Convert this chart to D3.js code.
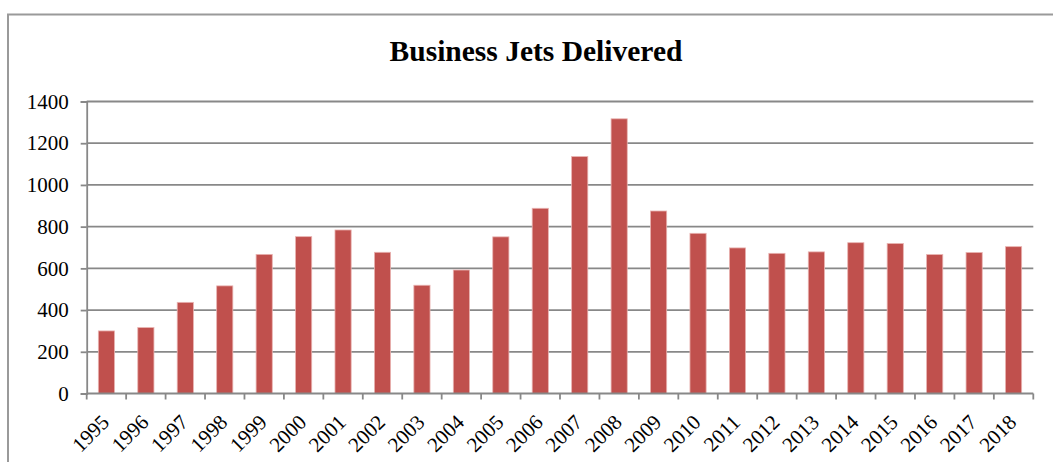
<!DOCTYPE html>
<html>
<head>
<meta charset="utf-8">
<script src="https://cdn.jsdelivr.net/npm/d3@7"></script>
<style>
  html, body { margin: 0; padding: 0; background: #fff; }
  svg { display: block; }
</style>
</head>
<body>
<svg id="chart" width="1053" height="462"></svg>
<script>
// Annual business jet deliveries
const years = ["1995","1996","1997","1998","1999","2000","2001","2002","2003","2004","2005","2006",
               "2007","2008","2009","2010","2011","2012","2013","2014","2015","2016","2017","2018"];
const deliveries = [300, 316, 437, 516, 667, 752, 784, 677, 519, 592, 751, 888,
                    1136, 1317, 875, 768, 698, 672, 679, 723, 719, 666, 676, 704];
const yTicks = [0, 200, 400, 600, 800, 1000, 1200, 1400];
const title = "Business Jets Delivered";

const svg = d3.select("#chart");
const plot = { left: 86.7, right: 1033.3, top: 101.5, bottom: 393.5 };
const serif = "'Liberation Serif', 'Times New Roman', serif";
const gridColor = "#888888";

// chart frame (runs past the window on the right and bottom)
svg.append("rect")
  .attr("x", 8).attr("y", 14.5)
  .attr("width", 1100).attr("height", 500)
  .attr("fill", "#fff")
  .attr("stroke", "#9a9a9a")
  .attr("stroke-width", 2);

const x = d3.scaleBand()
  .domain(years)
  .range([plot.left, plot.right])
  .paddingInner(0.59)
  .paddingOuter(0.295);

const xOuter = d3.scaleBand().domain(years).range([plot.left, plot.right]);

const y = d3.scaleLinear().domain([0, 1400]).range([plot.bottom, plot.top]);

// horizontal gridlines
svg.append("g")
  .selectAll("line")
  .data(yTicks.filter(d => d > 0))
  .join("line")
  .attr("x1", plot.left).attr("x2", plot.right)
  .attr("y1", d => y(d)).attr("y2", d => y(d))
  .attr("stroke", gridColor).attr("stroke-width", 1.8);

// bars
svg.append("g")
  .selectAll("rect")
  .data(years.map((yr, i) => ({ yr, v: deliveries[i] })))
  .join("rect")
  .attr("x", d => x(d.yr))
  .attr("width", x.bandwidth())
  .attr("y", d => y(d.v))
  .attr("height", d => y(0) - y(d.v))
  .attr("fill", "#C0504D")
  .attr("stroke", "#e9b3b1")
  .attr("stroke-width", 0.8);

// y axis
const yAxis = d3.axisLeft(y).tickValues(yTicks).tickSize(6).tickPadding(12).tickFormat(d3.format("d"));
const gy = svg.append("g").attr("transform", `translate(${plot.left},0)`).call(yAxis);
gy.select(".domain").attr("stroke", gridColor).attr("stroke-width", 1.8);
gy.selectAll(".tick line").attr("stroke", gridColor).attr("stroke-width", 1.8);
gy.selectAll(".tick text")
  .attr("font-family", serif).attr("font-size", 21).attr("fill", "#000");

// x axis: ticks at category boundaries
const boundaries = years.map(yr => xOuter(yr)).concat([plot.right]);
const gx = svg.append("g");
gx.append("line")
  .attr("x1", plot.left).attr("x2", plot.right)
  .attr("y1", plot.bottom).attr("y2", plot.bottom)
  .attr("stroke", gridColor).attr("stroke-width", 1.8);
gx.selectAll("line.tk")
  .data(boundaries)
  .join("line")
  .attr("class", "tk")
  .attr("x1", d => d).attr("x2", d => d)
  .attr("y1", plot.bottom).attr("y2", plot.bottom + 6)
  .attr("stroke", gridColor).attr("stroke-width", 1.8);

gx.selectAll("text")
  .data(years)
  .join("text")
  .attr("transform", d => `translate(${xOuter(d) + xOuter.bandwidth() / 2 + 4},${plot.bottom + 30}) rotate(-45)`)
  .attr("text-anchor", "end")
  .attr("font-family", serif).attr("font-size", 21).attr("fill", "#000")
  .text(d => d);

// title
svg.append("text")
  .attr("x", 536).attr("y", 61)
  .attr("text-anchor", "middle")
  .attr("font-family", serif).attr("font-weight", "bold").attr("font-size", 29.5)
  .attr("fill", "#000")
  .text(title);
</script>
</body>
</html>
